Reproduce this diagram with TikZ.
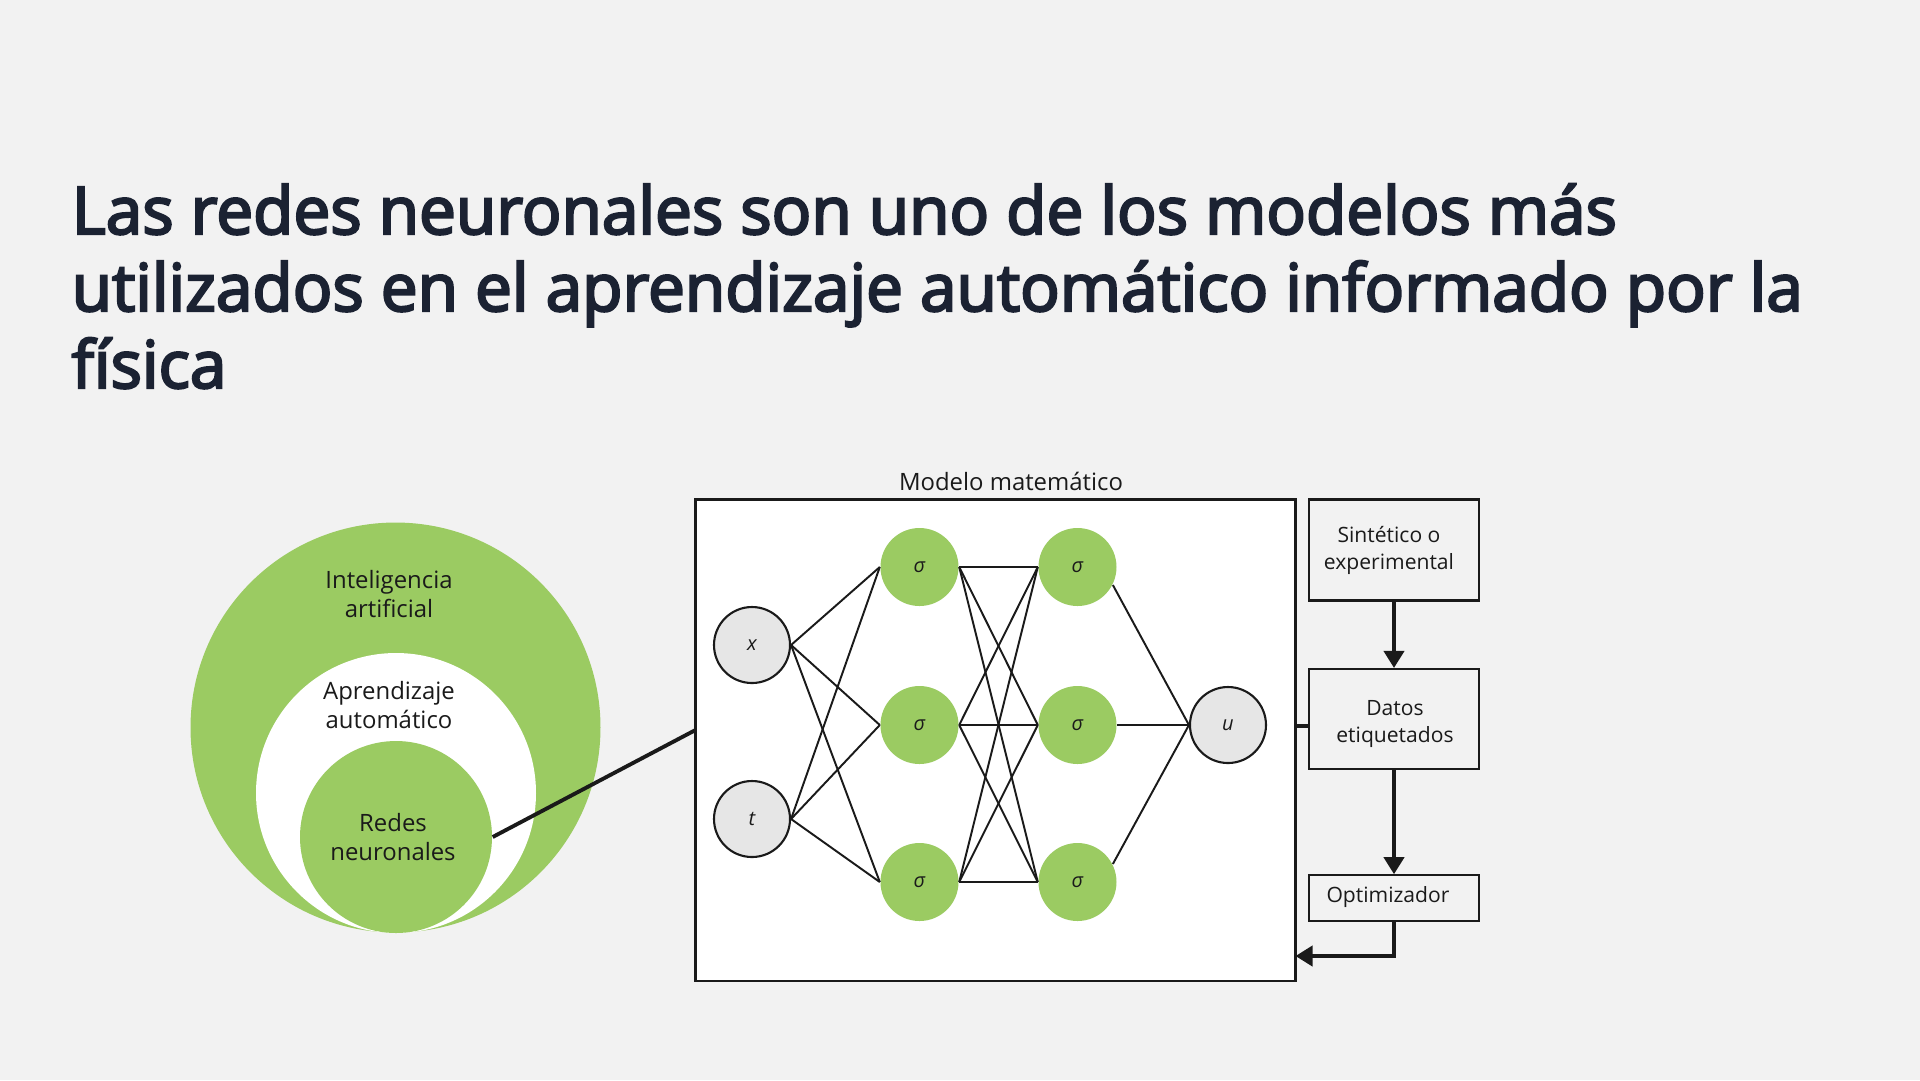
\documentclass[tikz,border=0pt]{standalone}
\usepackage{fontspec}
\setmainfont{Open Sans}
\newfontfamily\headfont{Open Sans}[FakeBold=3.5]
\usetikzlibrary{arrows.meta}

\definecolor{slidebg}{HTML}{F2F2F2}
\definecolor{leafgreen}{HTML}{9BCB62}
\definecolor{titleink}{HTML}{1B2232}
\definecolor{inputgray}{HTML}{E6E6E6}
\definecolor{ink}{HTML}{1A1A1A}

\tikzset{
  slidetitle/.style={anchor=base west, inner sep=0pt, text=titleink, font=\fontsize{18.7}{22}\headfont},
  settext/.style={align=center, inner sep=0pt, text=ink, font=\fontsize{6.8}{8.25}\selectfont},
  neuron/.style={circle, fill=leafgreen, minimum size=7.8mm, inner sep=0pt, text=ink, font=\fontsize{5.7}{6}\selectfont\itshape},
  inout/.style={circle, draw=ink, line width=0.6pt, fill=inputgray, minimum size=7.6mm, inner sep=0pt, text=ink, font=\fontsize{5.7}{6}\selectfont\itshape},
  wire/.style={draw=ink, line width=0.55pt},
  databox/.style={draw=ink, line width=0.6pt, fill=slidebg, minimum width=17mm, align=center, inner sep=0pt, text=ink, font=\fontsize{6}{7.7}\selectfont},
  flow/.style={draw=ink, line width=1.1pt, -{Triangle[length=1.7mm,width=2mm]}},
}

\begin{document}
\begin{tikzpicture}[x=0.1mm, y=-0.1mm]
\fill[slidebg] (0,0) rectangle (1920,1080);
\useasboundingbox (0,0) rectangle (1920,1080);

% title
\node[slidetitle] (title1) at (71,234) {Las redes neuronales son uno de los modelos más};
\node[slidetitle] (title2) at (71,311) {utilizados en el aprendizaje automático informado por la};
\node[slidetitle] (title3) at (71,388) {física};

% nested sets
\node[circle, fill=leafgreen, minimum size=41mm, inner sep=0pt] (ia) at (395.5,727.5) {};
\node[circle, fill=white, minimum size=28mm, inner sep=0pt] (ml) at (396,793) {};
\node[circle, fill=leafgreen, minimum size=19.2mm, inner sep=0pt] (redes) at (396,837) {};
\node[settext] (redeslabel) at (393,837) {Redes\\neuronales};
\node[settext] (ialabel) at (389,594) {Inteligencia\\artificial};
\node[settext] (mllabel) at (389,705) {Aprendizaje\\automático};

% model box
\node[draw=ink, line width=0.7pt, fill=white, minimum width=60mm, minimum height=48.15mm, inner sep=0pt] (modelo) at (995.5,740.25) {};
\node[settext] (modelolabel) at (1011,481) {Modelo matemático};
\coordinate (tap) at (695.5,730);
\draw[ink, line width=1.1pt] (redes.east) -- (tap);

% network
\node[inout] (x) at (752,645) {x};
\node[inout] (t) at (752,819) {t};
\node[neuron] (h1) at (919.5,567) {σ};
\node[neuron] (h2) at (919.5,725) {σ};
\node[neuron] (h3) at (919.5,882) {σ};
\node[neuron] (g1) at (1077.5,567) {σ};
\node[neuron] (g2) at (1077.5,725) {σ};
\node[neuron] (g3) at (1077.5,882) {σ};
\node[inout] (u) at (1228,725) {u};

\draw[wire] (x.east) -- (h1.west); % x
\draw[wire] (x.east) -- (h2.west);
\draw[wire] (x.east) -- (h3.west);
\draw[wire] (t.east) -- (h1.west); % t
\draw[wire] (t.east) -- (h2.west);
\draw[wire] (t.east) -- (h3.west);
\draw[wire] (h1.east) -- (g1.west); % h1
\draw[wire] (h1.east) -- (g2.west);
\draw[wire] (h1.east) -- (g3.west);
\draw[wire] (h2.east) -- (g1.west); % h2
\draw[wire] (h2.east) -- (g2.west);
\draw[wire] (h2.east) -- (g3.west);
\draw[wire] (h3.east) -- (g1.west); % h3
\draw[wire] (h3.east) -- (g2.west);
\draw[wire] (h3.east) -- (g3.west);
\draw[wire] (g1.-27) -- (u.west); % output
\draw[wire] (g2.east) -- (u.west);
\draw[wire] (g3.27) -- (u.west);

% data side
\node[databox, minimum height=10.1mm] (fuente) at (1394,550) {};
\node[settext, font=\fontsize{6}{7.7}\selectfont] (fuentelabel) at (1389,550) {Sintético o\\experimental};
\node[databox, minimum height=10mm] (datos) at (1394,719) {};
\node[settext, font=\fontsize{6}{7.7}\selectfont] (datoslabel) at (1395,724) {Datos\\etiquetados};
\node[databox, minimum height=4.55mm] (optim) at (1394,898) {};
\node[settext, font=\fontsize{6}{7.7}\selectfont] (optimlabel) at (1388,897) {Optimizador};
\coordinate (retorno) at (1295.5,956);
\coordinate (enlace) at (1295.5,726);

\draw[flow] (fuente) -- (datos);
\draw[flow] (datos) -- (optim);
\draw[flow] (optim.south) |- (retorno);
\draw[ink, line width=1.1pt] (datos.west |- enlace) -- (enlace);

\end{tikzpicture}
\end{document}
